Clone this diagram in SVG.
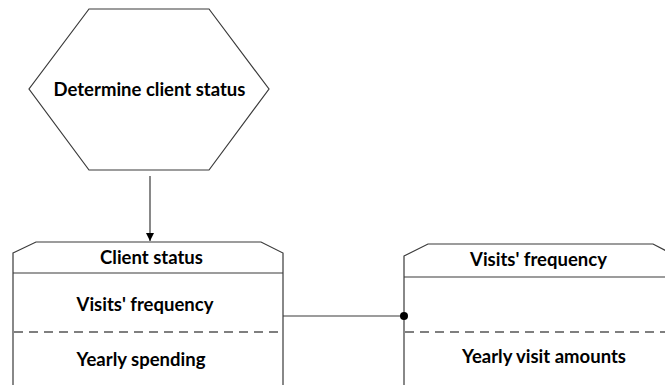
<svg xmlns="http://www.w3.org/2000/svg" width="665" height="385" viewBox="0 0 665 385">
  <defs>
    <style>
      .shape { fill: #ffffff; stroke: #3a3a3a; stroke-width: 1.2; }
      .line { fill: none; stroke: #3a3a3a; stroke-width: 1.2; }
      .dash { fill: none; stroke: #555555; stroke-width: 1.4; stroke-dasharray: 9 6; }
      .lbl { font-family: Lato, "Liberation Sans", sans-serif; font-weight: bold; font-size: 18.5px; fill: #000000; text-anchor: middle; }
    </style>
    <marker id="arrow" viewBox="0 0 10 10" refX="10" refY="5" markerWidth="8" markerHeight="8" markerUnits="userSpaceOnUse" orient="auto">
      <path d="M0,0 L10,5 L0,10 z" fill="#000000"/>
    </marker>
  </defs>
  <rect width="665" height="385" fill="#ffffff"/>

  <g id="determine-client-status">
    <polygon class="shape" points="89,9 209,9 269,89 209,170 89,170 29,89"/>
    <text class="lbl" x="149.5" y="96">Determine client status</text>
  </g>

  <g id="client-status">
    <path class="shape" d="M13,253 L36,242 L261,242 L283,253 L283,395 L13,395 Z"/>
    <line class="line" x1="13" y1="273" x2="283" y2="273"/>
    <line class="dash" x1="14" y1="332" x2="282" y2="332"/>
    <text class="lbl" x="151.5" y="264">Client status</text>
    <text class="lbl" x="145" y="310.5">Visits' frequency</text>
    <text class="lbl" x="141" y="366">Yearly spending</text>
  </g>

  <g id="visits-frequency">
    <path class="shape" d="M404,256 L428,244 L653,244 L676,256 L676,395 L404,395 Z"/>
    <line class="line" x1="404" y1="277" x2="676" y2="277"/>
    <line class="dash" x1="405" y1="332" x2="676" y2="332"/>
    <text class="lbl" x="538.5" y="265.5">Visits' frequency</text>
    <text class="lbl" x="544" y="362.5">Yearly visit amounts</text>
  </g>

  <g id="connectors">
    <line class="line" x1="150" y1="176" x2="150" y2="241" marker-end="url(#arrow)"/>
    <line class="line" x1="283" y1="316" x2="404" y2="316"/>
    <circle cx="404" cy="316" r="4" fill="#000000"/>
  </g>
</svg>
